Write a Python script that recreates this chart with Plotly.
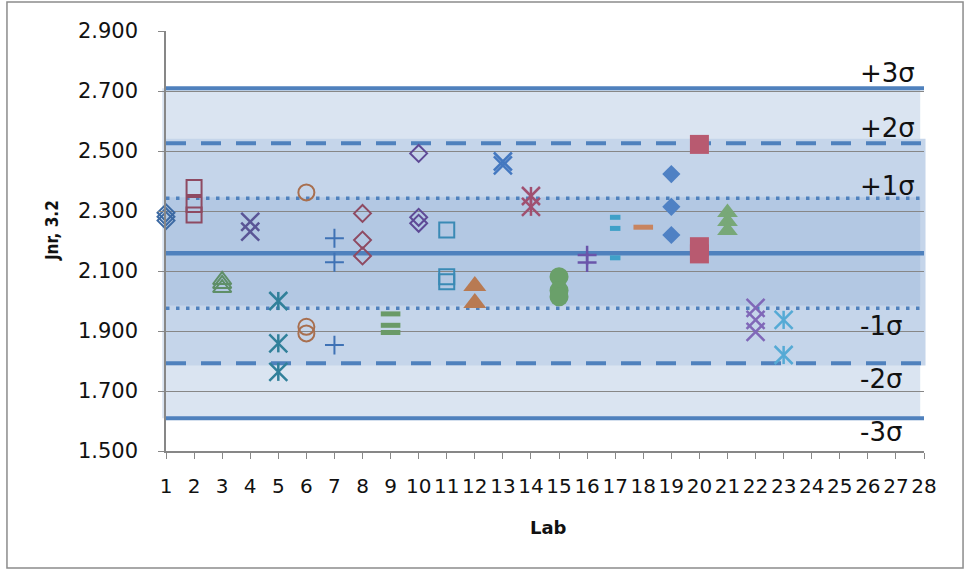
import plotly.graph_objects as go

# ---------------- data ----------------
LABS = list(range(1, 24))
JNR = [
    [2.294, 2.281, 2.268],   # 1
    [2.378, 2.322, 2.287],   # 2
    [2.070, 2.057, 2.043],   # 3
    [2.264, 2.231],          # 4
    [2.000, 1.859, 1.764],   # 5
    [2.362, 1.914, 1.892],   # 6
    [2.209, 2.129, 1.853],   # 7
    [2.292, 2.203, 2.150],   # 8
    [1.957, 1.919, 1.895],   # 9
    [2.492, 2.279, 2.259],   # 10
    [2.237, 2.081, 2.064],   # 11
    [2.050, 1.993],          # 12
    [2.465, 2.452],          # 13
    [2.350, 2.314],          # 14
    [2.081, 2.035, 2.014],   # 15
    [2.153, 2.128],          # 16
    [2.279, 2.242, 2.144],   # 17
    [2.246],                 # 18
    [2.423, 2.314, 2.220],   # 19
    [2.522, 2.181, 2.157],   # 20
    [2.295, 2.265, 2.235],   # 21
    [1.977, 1.937, 1.897],   # 22
    [1.937, 1.820],          # 23
]
MEAN = 2.159
SIGMA = 0.1834
SIGMA_LABELS = ["+3σ", "+2σ", "+1σ", "-1σ", "-2σ", "-3σ"]
SIGMA_MULT = [3, 2, 1, -1, -2, -3]
X_TICKS = list(range(1, 29))
Y_TICKS = [1.5, 1.7, 1.9, 2.1, 2.3, 2.5, 2.7, 2.9]

# ---------------- styles ----------------
COLORS = ["#3d6aa3", "#8e4a62", "#5f8f68", "#5a5596", "#31809a", "#a86f4f",
          "#3f72b5", "#8e4a62", "#6a9a68", "#5e4a96", "#3a8ab5", "#b87a52",
          "#4478c0", "#a05070", "#6aa06a", "#6a55aa", "#3fa0c8", "#c8845f",
          "#4f81c4", "#b85a70", "#78a878", "#8068b8", "#55aad5"]
# (symbol, size, line width)
STYLES = [
    ("diamond-open", 13, 2), ("square-open", 15, 2), ("triangle-up-open", 16, 2),
    ("x-thin-open", 18, 2.5), ("asterisk", 18, 2.5), ("circle-open", 16, 2),
    ("cross-thin-open", 13.5, 2), ("diamond-open", 13, 2), ("line-ew-open", 14, 5),
    ("diamond-open", 13, 2), ("square-open", 15, 2), ("triangle-up", 20, 0),
    ("x-thin-open", 18, 2.5), ("asterisk", 18, 2.5), ("circle", 19, 0),
    ("cross-thin-open", 13.5, 2.5), ("line-ew-open", 7.5, 5), ("line-ew-open", 14, 5),
    ("diamond", 14, 0), ("square", 19, 0), ("triangle-up", 18, 0),
    ("x-thin-open", 18, 2.5), ("asterisk", 18, 2.5),
]
LINE_BLUE = "#4f81bd"
GRID = "#878787"
FONT = "DejaVu Sans"

fig = go.Figure()

# control lines
line_styles = {3: ("solid", 4), 2: ("20px,15px", 4), 1: ("3.5px,6.5px", 3.5),
               -1: ("3.5px,6.5px", 3.5), -2: ("20px,15px", 4), -3: ("solid", 4)}
fig.add_trace(go.Scatter(x=[X_TICKS[0], X_TICKS[-1]], y=[MEAN, MEAN], mode="lines",
                         line=dict(color=LINE_BLUE, width=4.5), hoverinfo="skip",
                         showlegend=False))
for m in SIGMA_MULT:
    d, w = line_styles[m]
    v = MEAN + m * SIGMA
    fig.add_trace(go.Scatter(x=[X_TICKS[0], X_TICKS[-1]], y=[v, v], mode="lines",
                             line=dict(color=LINE_BLUE, width=w, dash=d),
                             hoverinfo="skip", showlegend=False))

# lab markers
for lab, vals, col, (sym, size, lw) in zip(LABS, JNR, COLORS, STYLES):
    xs = [lab] * len(vals)
    if sym == "asterisk":
        fig.add_trace(go.Scatter(x=xs, y=vals, mode="markers", cliponaxis=False,
                                 marker=dict(symbol="x-thin-open", size=size, color=col,
                                             line=dict(color=col, width=lw)),
                                 showlegend=False))
        fig.add_trace(go.Scatter(x=xs, y=vals, mode="markers", cliponaxis=False,
                                 marker=dict(symbol="line-ns-open", size=size * 0.72, color=col,
                                             line=dict(color=col, width=lw)),
                                 showlegend=False))
    else:
        fig.add_trace(go.Scatter(x=xs, y=vals, mode="markers", cliponaxis=False,
                                 marker=dict(symbol=sym, size=size, color=col,
                                             line=dict(color=col, width=lw)),
                                 showlegend=False))

# bands (below gridlines)
bands = [
    (MEAN - 3 * SIGMA, MEAN + 3 * SIGMA, "#dae4f1", -0.005, 0.995),
    (MEAN - 2.04 * SIGMA, MEAN + 2.08 * SIGMA, "#c5d5ea", 0.0, 1.002),
    (MEAN - 0.95 * SIGMA, MEAN + 1.02 * SIGMA, "#b3c8e3", 0.0, 0.995),
]
shapes = []
for y0, y1, c, x0, x1 in bands:
    shapes.append(dict(type="rect", xref="paper", yref="y", x0=x0, x1=x1, y0=y0, y1=y1,
                       fillcolor=c, line=dict(width=0), layer="below"))
# outer chart border
shapes.append(dict(type="rect", xref="paper", yref="paper", x0=-0.2098, x1=1.0515,
                   y0=-0.2786, y1=1.069, line=dict(color="#8c8c8c", width=1.5),
                   fillcolor="rgba(0,0,0,0)", layer="above"))

# sigma labels
shifts = {3: 15, 2: 15, 1: 12, -1: -18, -2: -16, -3: -14}
annotations = []
for lbl, m in zip(SIGMA_LABELS, SIGMA_MULT):
    annotations.append(dict(text=lbl, xref="paper", yref="y", x=0.913,
                            y=MEAN + m * SIGMA, yshift=shifts[m], xanchor="left",
                            yanchor="middle", showarrow=False,
                            font=dict(family=FONT, size=26, color="#111111")))
annotations.append(dict(text="<b>Jnr, 3.2</b>", xref="paper", yref="paper", x=-0.1504,
                        y=0.526, textangle=-90, showarrow=False, xanchor="center",
                        yanchor="middle",
                        font=dict(family="Liberation Sans Narrow, DejaVu Sans Condensed, Liberation Sans",
                                  size=17, color="#111111")))
annotations.append(dict(text="<b>Lab</b>", xref="paper", yref="paper", x=0.505,
                        y=-0.183, showarrow=False, xanchor="center", yanchor="middle",
                        font=dict(family=FONT, size=18, color="#111111")))

fig.update_layout(
    width=967, height=572,
    margin=dict(l=166, r=43, t=31, b=121),
    paper_bgcolor="white", plot_bgcolor="white",
    shapes=shapes, annotations=annotations,
    showlegend=False,
    xaxis=dict(range=[1, 28], tickmode="array", tickvals=X_TICKS,
               ticktext=[str(t) for t in X_TICKS], tickangle=0,
               showgrid=False, zeroline=False, showline=True, linecolor=GRID,
               linewidth=1.5, ticks="outside", ticklen=6, tickcolor=GRID,
               ticklabelstandoff=10,
               tickfont=dict(family=FONT, size=20, color="#111111")),
    yaxis=dict(range=[1.5, 2.9], tickmode="array", tickvals=Y_TICKS,
               ticktext=[f"{t:.3f}" for t in Y_TICKS],
               showgrid=True, gridcolor=GRID, gridwidth=1, zeroline=False,
               showline=True, linecolor=GRID, linewidth=1.5, ticks="outside",
               ticklen=6, tickcolor=GRID, ticklabelstandoff=16,
               tickfont=dict(family=FONT, size=21, color="#111111")),
)

fig.write_html("out.html", config={"displayModeBar": False},
               post_script="document.body.style.margin='0px';")
